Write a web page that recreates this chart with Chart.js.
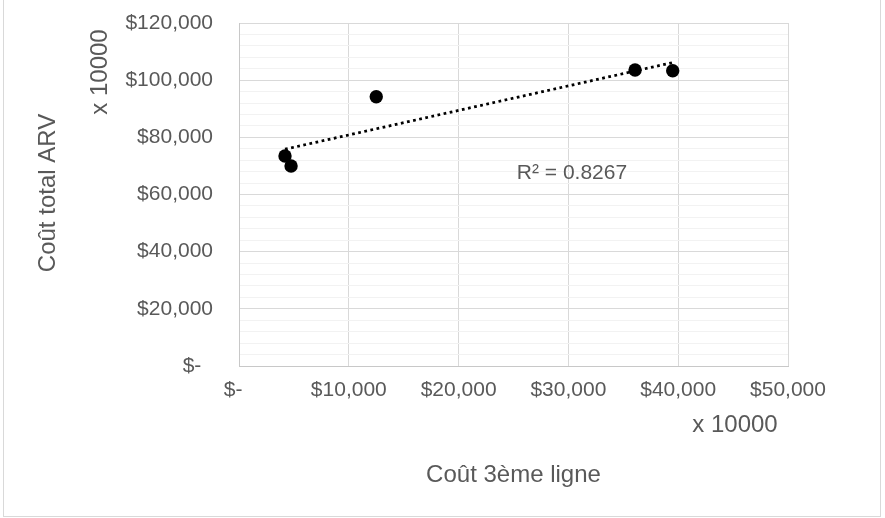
<!DOCTYPE html>
<html><head><meta charset="utf-8">
<script src="https://cdn.jsdelivr.net/npm/chart.js@4/dist/chart.umd.min.js"></script>
<style>
html,body{margin:0;padding:0;background:#fff;overflow:hidden;}
#wrap{position:absolute;left:0;top:0;width:885px;height:518px;}
#frame{position:absolute;left:3px;top:-3px;width:878px;height:520px;border:1px solid #d9d9d9;box-sizing:border-box;}
canvas{position:absolute;left:0;top:0;}
</style></head><body>
<div id="wrap"><div id="frame"></div><canvas id="c" width="885" height="518"></canvas></div>
<script>
// Data
const costThirdLine = [4190, 4740, 12500, 36070, 39500];
const costTotalARV  = [73470, 69970, 94210, 103560, 103310];
// Axis ticks
const xTickValues = [0, 10000, 20000, 30000, 40000, 50000];
const yTickValues = [0, 20000, 40000, 60000, 80000, 100000, 120000];
const yMinorStep = 4000;
// Texts
const xTitle = 'Coût 3ème ligne';
const yTitle = 'Coût total ARV';
const unitLabel = 'x 10000';
const r2Label = 'R² = 0.8267';

const TEXT = '#595959';
const FONT = 'Liberation Sans, Arial, sans-serif';

function fmt(v){
  if (v === 0) return '$-  ';
  return '$' + v.toLocaleString('en-US');
}

// least squares trend line
const n = costThirdLine.length;
const mx = costThirdLine.reduce((a,b)=>a+b,0)/n;
const my = costTotalARV.reduce((a,b)=>a+b,0)/n;
let sxy=0, sxx=0;
for (let i=0;i<n;i++){ sxy += (costThirdLine[i]-mx)*(costTotalARV[i]-my); sxx += (costThirdLine[i]-mx)**2; }
const slope = sxy/sxx, intercept = my - slope*mx;
const xMin = Math.min(...costThirdLine), xMax = Math.max(...costThirdLine);

const textPlugin = {
  id:'texts',
  afterDraw(chart){
    const ctx = chart.ctx, a = chart.chartArea;
    ctx.save();
    ctx.fillStyle = TEXT;
    ctx.textAlign = 'center';
    ctx.textBaseline = 'middle';
    ctx.font = '24px ' + FONT;
    ctx.fillText(xTitle, (a.left+a.right)/2, 475);
    ctx.fillText(unitLabel, 735, 425);
    ctx.save(); ctx.translate(48, 193); ctx.rotate(-Math.PI/2); ctx.fillText(yTitle, 0, 0); ctx.restore();
    ctx.save(); ctx.translate(100, 72); ctx.rotate(-Math.PI/2); ctx.fillText(unitLabel, 0, 0); ctx.restore();
    ctx.font = '21px ' + FONT;
    ctx.fillText(r2Label, 572, 173);
    ctx.restore();
  }
};

new Chart(document.getElementById('c').getContext('2d'), {
  type:'scatter',
  data:{datasets:[
    {type:'line', label:'Trend', data:[{x:xMin,y:intercept+slope*xMin},{x:xMax,y:intercept+slope*xMax}],
     borderColor:'#000', borderWidth:2.75, borderDash:[2.75,3.5], pointRadius:0, fill:false},
    {label:'ARV', data:costThirdLine.map((x,i)=>({x, y:costTotalARV[i]})),
     backgroundColor:'#000', borderColor:'#000', pointRadius:6.7, pointHoverRadius:6.7, borderWidth:0}
  ]},
  options:{
    responsive:false, animation:false, devicePixelRatio:1,
    layout:{padding:{left:0, top:23, right:97, bottom:0}},
    plugins:{legend:{display:false}, tooltip:{enabled:false}},
    events:[],
    scales:{
      x:{type:'linear', min:0, max:50000,
        afterFit(s){ s.height = 518-366; },
        afterBuildTicks(s){ s.ticks = xTickValues.map(v=>({value:v})); },
        ticks:{color:TEXT, font:{family:FONT, size:21}, padding:12, maxRotation:0, callback:v=>fmt(v)},
        grid:{color:'#d9d9d9', drawTicks:false, lineWidth:1},
        border:{color:'#c8c8c8'}},
      y:{min:0, max:120000,
        afterFit(s){ s.width = 239; s.paddingTop = 0; s.paddingBottom = 0; },
        ticks:{stepSize:yMinorStep, autoSkip:false, color:TEXT, font:{family:FONT, size:21}, padding:26,
          callback:v=> yTickValues.includes(v) ? fmt(v) : ''},
        grid:{color:c=> (c.tick && yTickValues.includes(c.tick.value)) ? '#d9d9d9' : '#f2f2f2', drawTicks:false, lineWidth:1},
        border:{color:'#c8c8c8'}}
    }
  },
  plugins:[textPlugin]
});
</script>
</body></html>
